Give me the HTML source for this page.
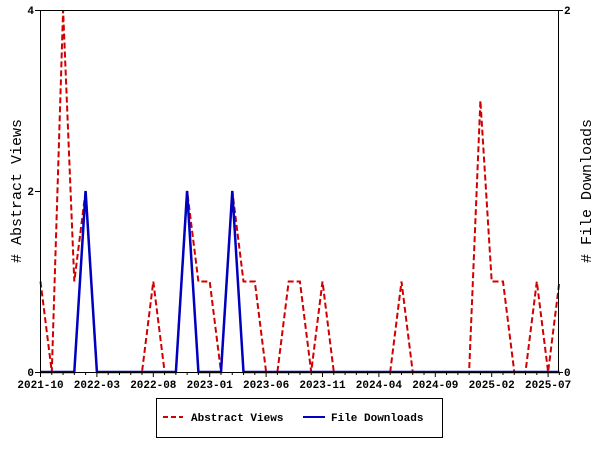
<!DOCTYPE html>
<html><head><meta charset="utf-8"><style>
html,body{margin:0;padding:0;background:#fff;}
svg{display:block;font-family:"Liberation Mono","DejaVu Sans Mono",monospace;}
</style></head><body>
<svg id="s" width="600" height="450" xmlns="http://www.w3.org/2000/svg">
<rect x="0" y="0" width="600" height="450" fill="#fff"/>
<g id="ticks" stroke="#000" stroke-width="1"></g>
<polyline id="red" fill="none" stroke="#d00000" stroke-width="2" stroke-dasharray="6,3"/>
<polyline id="blue" fill="none" stroke="#0000c0" stroke-width="2.5"/>
<rect x="40.5" y="10.5" width="518" height="362" fill="none" stroke="#000" stroke-width="1"/>
<g font-size="11" font-weight="bold" fill="#000">
<text x="34" y="14" text-anchor="end">4</text>
<text x="34" y="195" text-anchor="end">2</text>
<text x="34" y="376" text-anchor="end">0</text>
<text x="564" y="14">2</text>
<text x="564" y="376">0</text>
</g>
<g id="xl" font-size="11" font-weight="bold" fill="#000" text-anchor="middle"></g>
<text transform="translate(21,191) rotate(-90)" font-size="15" text-anchor="middle"># Abstract Views</text>
<text transform="translate(591,191) rotate(-90)" font-size="15" text-anchor="middle"># File Downloads</text>
<rect x="156.5" y="398.5" width="286" height="39" fill="#fff" stroke="#000" stroke-width="1"/>
<line x1="163" y1="417" x2="183" y2="417" stroke="#d00000" stroke-width="2" stroke-dasharray="5,3"/>
<text x="191" y="421" font-size="11" font-weight="bold">Abstract Views</text>
<line x1="303" y1="417" x2="325" y2="417" stroke="#0000c0" stroke-width="2"/>
<text x="331" y="421" font-size="11" font-weight="bold">File Downloads</text>
</svg>
<script>
var step=11.28,x0=40.5;
var av=[1,0,4,1,2,0,0,0,0,0,1,0,0,2,1,1,0,2,1,1,0,0,1,1,0,1,0,0,0,0,0,0,1,0,0,0,0,0,0,3,1,1,0,0,1,0,1];
var fd=[];for(var i=0;i<47;i++)fd.push(0);fd[4]=1;fd[13]=1;fd[17]=1;
function Y(v,m){return 372-v*(362/m);}
document.getElementById('red').setAttribute('points',av.map(function(v,i){return (x0+i*step).toFixed(1)+','+Y(v,4).toFixed(1)}).join(' '));
document.getElementById('blue').setAttribute('points',fd.map(function(v,i){return (x0+i*step).toFixed(1)+','+Y(v,2).toFixed(1)}).join(' '));
var t=document.getElementById('ticks'),xl=document.getElementById('xl'),ns='http://www.w3.org/2000/svg';
for(var i=0;i<47;i++){var x=x0+i*step;var l=document.createElementNS(ns,'line');l.setAttribute('x1',x);l.setAttribute('x2',x);l.setAttribute('y1',372);l.setAttribute('y2',i%5==0?377:375);t.appendChild(l);}
var labs=['2021-10','2022-03','2022-08','2023-01','2023-06','2023-11','2024-04','2024-09','2025-02','2025-07'];
labs.forEach(function(s,k){var e=document.createElementNS(ns,'text');e.setAttribute('x',x0+k*5*step);e.setAttribute('y',388);e.textContent=s;xl.appendChild(e);});
[[10,35,40],[191,35,40],[372,35,40],[10,558,563],[372,558,563]].forEach(function(a){var l=document.createElementNS(ns,'line');l.setAttribute('x1',a[1]);l.setAttribute('x2',a[2]);l.setAttribute('y1',a[0]+.5);l.setAttribute('y2',a[0]+.5);t.appendChild(l);});
</script>
</body></html>
